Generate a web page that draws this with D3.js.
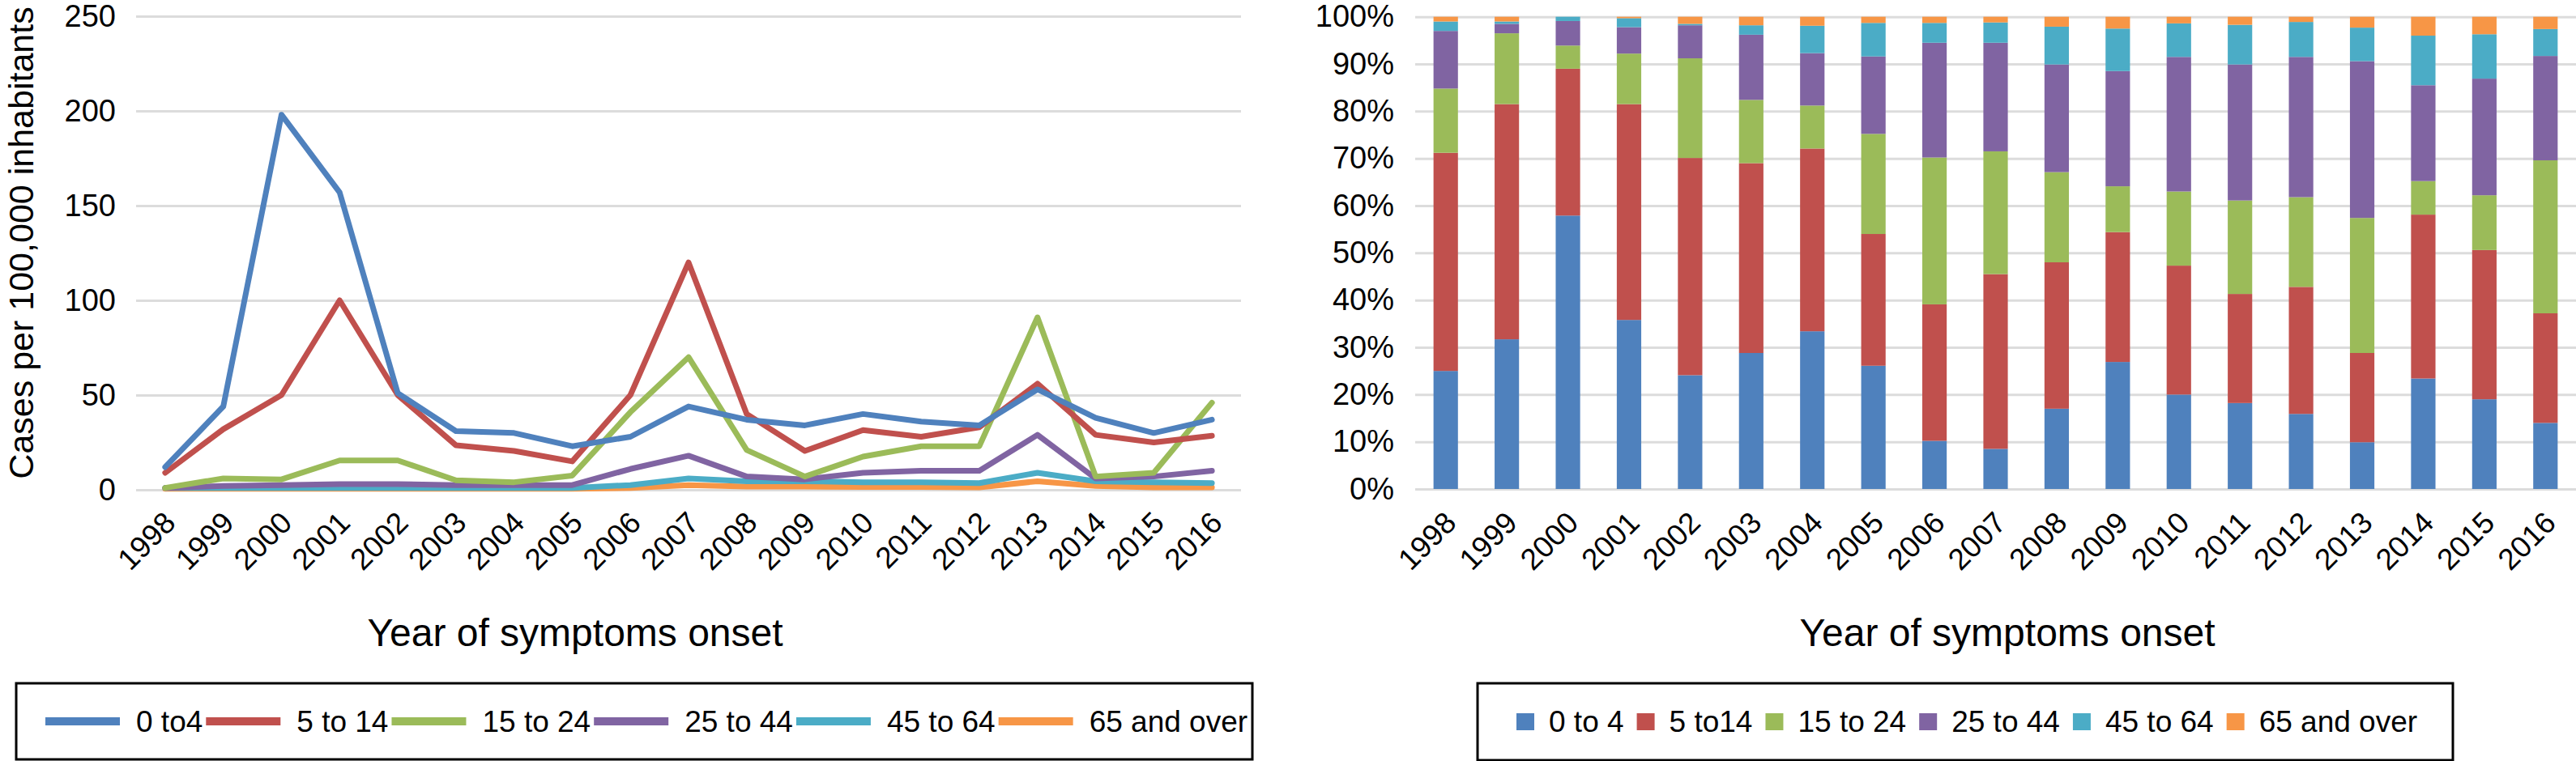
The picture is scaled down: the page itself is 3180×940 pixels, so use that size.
<!DOCTYPE html>
<html>
<head>
<meta charset="utf-8">
<script src="https://cdn.jsdelivr.net/npm/d3@7"></script>
<style>
  body { margin: 0; background: #fff; }
  svg { display: block; font-family: "Liberation Sans", Arial, sans-serif; }
  .grid line { stroke: #dcdcdc; stroke-width: 3; }
  .grid path { display: none; }
  .tick text { fill: #000; }
</style>
</head>
<body>
<svg id="chart" width="3180" height="940"></svg>
<script>
  // categories
  const years = ['1998', '1999', '2000', '2001', '2002', '2003', '2004', '2005', '2006', '2007',
    '2008', '2009', '2010', '2011', '2012', '2013', '2014', '2015', '2016'];
  const groupNamesLine = ['0 to4', '5 to 14', '15 to 24', '25 to 44', '45 to 64', '65 and over'];
  const groupNamesBar = ['0 to 4', '5 to14', '15 to 24', '25 to 44', '45 to 64', '65 and over'];

  // cases per 100,000 inhabitants (left chart)
  const rate0to4 = [12, 44, 198, 157, 51, 31, 30, 23, 28, 44, 37, 34, 40, 36, 34, 53, 38, 30, 37];
  const rate5to14 = [9, 32, 50, 100, 50, 23.5, 20.5, 15, 50, 120, 40, 20.5, 31.5, 28, 33, 56, 29, 25, 28.5];
  const rate15to24 = [1, 6, 5.5, 15.5, 15.5, 5, 4, 7.5, 41, 70, 21, 7, 17.5, 23, 23, 91, 7, 9, 46];
  const rate25to44 = [1, 2, 2.5, 3, 3, 2.5, 2.5, 2.5, 11, 18, 7, 5.5, 9, 10, 10, 29, 6, 7, 10];
  const rate45to64 = [1, 1, 1, 1, 1, 1, 1, 1, 2.5, 6, 4.5, 4.5, 4, 4, 3.5, 9, 4.5, 4, 3.5];
  const rate65over = [0.5, 0.5, 0.5, 0.5, 0.5, 0.5, 0.5, 0.5, 1, 2.5, 1.7, 1.7, 1.5, 1.5, 1.3, 4.5, 2, 1.3, 1.3];

  // share of cases, % (right chart)
  const share0to4 = [25, 31.7, 57.9, 35.8, 24.1, 28.8, 33.4, 26.1, 10.2, 8.5, 17, 26.9, 20, 18.2, 15.9, 9.9, 23.4, 19, 14];
  const share5to14 = [46.2, 49.8, 31.1, 45.7, 46, 40.2, 38.7, 27.9, 28.9, 37, 31, 27.5, 27.3, 23.1, 26.9, 18.9, 34.7, 31.6, 23.2];
  const share15to24 = [13.6, 15, 4.9, 10.7, 21.1, 13.4, 9.1, 21.2, 31.1, 26, 19.1, 9.7, 15.7, 19.8, 19, 28.6, 7.1, 11.6, 32.4];
  const share25to44 = [12.2, 2, 5.2, 5.6, 7, 13.8, 11.1, 16.4, 24.3, 23, 22.8, 24.4, 28.5, 28.8, 29.7, 33.2, 20.3, 24.7, 22.1];
  const share45to64 = [2, 0.5, 0.9, 1.9, 0.3, 2, 5.8, 7.1, 4.2, 4.3, 8, 9, 7.1, 8.4, 7.4, 7.1, 10.5, 9.4, 5.7];
  const share65over = [1, 1, 0, 0.3, 1.5, 1.8, 1.9, 1.3, 1.3, 1.2, 2.1, 2.5, 1.4, 1.7, 1.1, 2.3, 4, 3.7, 2.6];

  // tick labels
  const rateTicks = [0, 50, 100, 150, 200, 250];
  const shareTicks = [0, 10, 20, 30, 40, 50, 60, 70, 80, 90, 100];

  const colors = ['#4f81bd', '#c0504d', '#9bbb59', '#8064a2', '#4bacc6', '#f79646'];

  const svg = d3.select('#chart');
  const rates = [rate0to4, rate5to14, rate15to24, rate25to44, rate45to64, rate65over];
  const shares = [share0to4, share5to14, share15to24, share25to44, share45to64, share65over];

  /*
   * left: line chart
   */
  let L = {left: 168, right: 1532, top: 20, bottom: 605};

  let xL = d3.scaleBand().domain(years).range([L.left, L.right]);
  let yL = d3.scaleLinear().domain([0, 250]).range([L.bottom, L.top]);

  svg.append('g')
    .attr('class', 'grid')
    .attr('transform', 'translate(' + L.left + ',0)')
    .call(d3.axisLeft(yL).tickValues(rateTicks).tickSize(-(L.right - L.left)).tickPadding(25))
    .selectAll('text')
    .style('font-size', '38px');

  let line = d3.line()
    .x(function (d, i) { return xL(years[i]) + xL.bandwidth() / 2; })
    .y(function (d) { return yL(d); });

  // draw from last to first so blue sits on top
  svg.append('g').selectAll('path')
    .data(rates.map(function (r, i) { return {values: r, color: colors[i]}; }).reverse())
    .enter()
    .append('path')
    .attr('d', function (d) { return line(d.values); })
    .attr('fill', 'none')
    .attr('stroke', function (d) { return d.color; })
    .attr('stroke-width', 7)
    .attr('stroke-linejoin', 'round')
    .attr('stroke-linecap', 'round');

  svg.append('g').selectAll('text')
    .data(years)
    .enter()
    .append('text')
    .attr('text-anchor', 'end')
    .attr('transform', function (d) {
      return 'translate(' + (xL(d) + xL.bandwidth() / 2 + 15) + ',648) rotate(-45)';
    })
    .style('font-size', '37px')
    .text(function (d) { return d; });

  svg.append('text')
    .attr('transform', 'translate(41,300) rotate(-90)')
    .attr('text-anchor', 'middle')
    .style('font-size', '43px')
    .text('Cases per 100,000 inhabitants');

  svg.append('text')
    .attr('x', 710)
    .attr('y', 798)
    .attr('text-anchor', 'middle')
    .style('font-size', '48px')
    .text('Year of symptoms onset');

  // legend
  svg.append('rect')
    .attr('x', 20).attr('y', 844).attr('width', 1526).attr('height', 94)
    .attr('fill', 'none').attr('stroke', '#000').attr('stroke-width', 3);

  let lx = 56;
  groupNamesLine.forEach(function (name, i) {
    svg.append('line')
      .attr('x1', lx).attr('x2', lx + 92).attr('y1', 891).attr('y2', 891)
      .attr('stroke', colors[i]).attr('stroke-width', 10);
    let t = svg.append('text')
      .attr('x', lx + 112).attr('y', 891).attr('dy', '0.35em')
      .style('font-size', '37px')
      .text(name);
    lx = lx + 112 + t.node().getComputedTextLength() + 4;
  });

  /*
   * right: 100% stacked bars
   */
  let R = {left: 1747, right: 3180, top: 20.7, bottom: 604};

  let xR = d3.scaleBand().domain(years).range([R.left, R.right]);
  let yR = d3.scaleLinear().domain([0, 100]).range([R.bottom, R.top]);
  let barW = xR.bandwidth() * 0.4;

  svg.append('g')
    .attr('class', 'grid')
    .attr('transform', 'translate(' + R.left + ',0)')
    .call(d3.axisLeft(yR).tickValues(shareTicks).tickSize(-(R.right - R.left))
      .tickPadding(26).tickFormat(function (d) { return d + '%'; }))
    .selectAll('text')
    .style('font-size', '38px');

  let table = years.map(function (y, j) {
    let row = {year: y};
    shares.forEach(function (s, i) { row['g' + i] = s[j]; });
    return row;
  });
  let stack = d3.stack().keys(shares.map(function (s, i) { return 'g' + i; }));

  svg.append('g').selectAll('g')
    .data(stack(table))
    .enter()
    .append('g')
    .attr('fill', function (d, i) { return colors[i]; })
    .selectAll('rect')
    .data(function (d) { return d; })
    .enter()
    .append('rect')
    .attr('x', function (d) { return xR(d.data.year) + (xR.bandwidth() - barW) / 2; })
    .attr('width', barW)
    .attr('y', function (d) { return yR(d[1]); })
    .attr('height', function (d) { return yR(d[0]) - yR(d[1]); });

  svg.append('g').selectAll('text')
    .data(years)
    .enter()
    .append('text')
    .attr('text-anchor', 'end')
    .attr('transform', function (d) {
      return 'translate(' + (xR(d) + xR.bandwidth() / 2 + 15) + ',648) rotate(-45)';
    })
    .style('font-size', '37px')
    .text(function (d) { return d; });

  svg.append('text')
    .attr('x', 2478)
    .attr('y', 798)
    .attr('text-anchor', 'middle')
    .style('font-size', '48px')
    .text('Year of symptoms onset');

  svg.append('rect')
    .attr('x', 1824).attr('y', 844).attr('width', 1204).attr('height', 95)
    .attr('fill', 'none').attr('stroke', '#000').attr('stroke-width', 3);

  let rx = 1872;
  groupNamesBar.forEach(function (name, i) {
    svg.append('rect')
      .attr('x', rx).attr('y', 881).attr('width', 22).attr('height', 21)
      .attr('fill', colors[i]);
    let t = svg.append('text')
      .attr('x', rx + 40).attr('y', 891).attr('dy', '0.35em')
      .style('font-size', '37px')
      .text(name);
    rx = rx + 40 + t.node().getComputedTextLength() + 16;
  });
</script>
</body>
</html>
